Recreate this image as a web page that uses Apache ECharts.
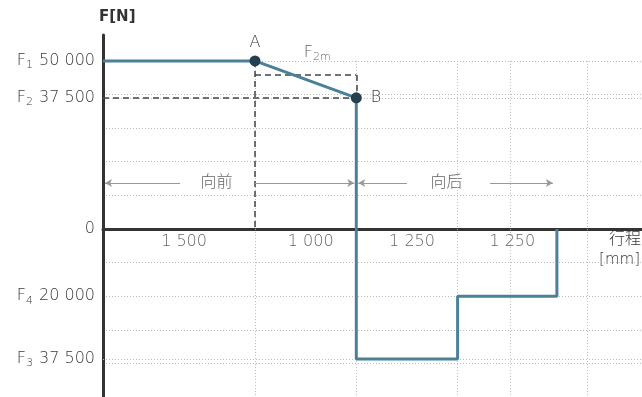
<!DOCTYPE html>
<html>
<head>
<meta charset="utf-8">
<script src="https://cdn.jsdelivr.net/npm/echarts@6/dist/echarts.min.js"></script>
<style>
  html, body { margin: 0; padding: 0; background: #fff; }
  #chart { width: 642px; height: 397px; }
</style>
</head>
<body>
<div id="chart"></div>
<script>
// travel (mm, as drawn) and force (N) of the load profile
const travelPts = [0, 1500, 2500, 2500, 3500, 3500, 4480, 4480]
const forcePts = [50000, 50000, 39000, -38700, -38700, -20000, -20000, 0]

// named points A and B
const pointNames = ['A', 'B']
const pointTravel = [1500, 2500]
const pointForce = [50000, 39000]
const f2mForce = 45800

// segment lengths written under the travel axis
const segBounds = [0, 1500, 2500, 3500, 4480]
const segLabels = ['1 500', '1 000', '1 250', '1 250']

// force axis labels
const forceTicks = [50000, 39000, 0, -20000, -38700]
const forceSubs = ['1', '2', '', '4', '3']
const forceTexts = ['50 000', '37 500', '0', '20 000', '37 500']

// extra vertical grid lines
const vGridAt = [1500, 2500, 3500, 4020, 4780]

const dirNames = ['向前', '向后']

const FONT = '"DejaVu Sans", "Noto Sans CJK SC", sans-serif'
const TXT = '#3a3a3a'
const LINE = '#4b8099'
const X_MAX = 5320

const chart = echarts.init(document.getElementById('chart'))

const subRich = {
  m: { fontSize: 16, color: TXT, fontFamily: FONT, fontWeight: 300 },
  s: { fontSize: 11, color: TXT, fontFamily: FONT, fontWeight: 300, padding: [9, 1, 0, 0] }
}

const dashed = { color: '#444', width: 1.5, type: [6, 4] }
const dotted = { color: '#bbb', width: 1, type: [1, 2] }
const arrowLine = { color: '#999', width: 1, type: 'solid' }

const segData = segLabels.map((s, i) => ({
  value: [(segBounds[i] + segBounds[i + 1]) / 2 + 50, 0],
  label: { formatter: s }
}))

const option = {
  animation: false,
  grid: { left: 103, right: 0, top: 35, bottom: 0, containLabel: false },
  xAxis: {
    type: 'value',
    min: 0,
    max: X_MAX,
    axisLine: { show: true, onZero: true, lineStyle: { color: '#333', width: 3 } },
    axisTick: { show: false },
    axisLabel: { show: false },
    splitLine: { show: false }
  },
  yAxis: {
    type: 'value',
    min: -50000,
    max: 57700,
    interval: 10000,
    name: 'F[N]',
    nameLocation: 'end',
    nameGap: 10,
    nameTextStyle: { fontFamily: FONT, fontSize: 15, fontWeight: 'bold', color: '#333', align: 'left', padding: [0, 0, 0, -4] },
    axisLine: { show: true, onZero: false, lineStyle: { color: '#333', width: 3 } },
    axisTick: { show: false },
    axisLabel: {
      customValues: forceTicks,
      margin: 8,
      formatter: v => {
        const i = forceTicks.indexOf(v)
        if (i < 0) return ''
        return forceSubs[i] ? '{m|F}{s|' + forceSubs[i] + '}{m| ' + forceTexts[i] + '}' : '{m|' + forceTexts[i] + '}'
      },
      rich: subRich
    },
    splitLine: { show: true, showMaxLine: false, lineStyle: dotted }
  },
  series: [
    {
      // grid helpers and dashed construction lines
      type: 'line',
      data: [],
      silent: true,
      markLine: {
        silent: true,
        symbol: 'none',
        label: { show: false },
        data: [
          ...vGridAt.map(x => [{ coord: [x, 50000], lineStyle: dotted }, { coord: [x, -50000] }]),
          [{ coord: [0, pointForce[1]], lineStyle: dotted }, { coord: [X_MAX, pointForce[1]] }],
          [{ coord: [0, forcePts[3]], lineStyle: dotted }, { coord: [X_MAX, forcePts[3]] }],
          [{ coord: [0, pointForce[1]], lineStyle: dashed }, { coord: [pointTravel[1], pointForce[1]] }],
          [{ coord: [pointTravel[0], pointForce[0]], lineStyle: dashed }, { coord: [pointTravel[0], 0] }],
          [{ coord: [pointTravel[0], f2mForce], lineStyle: dashed }, { coord: [pointTravel[1], f2mForce] }],
          [{ coord: [pointTravel[1], f2mForce], lineStyle: dashed }, { coord: [pointTravel[1], pointForce[1]] }]
        ]
      }
    },
    {
      // direction arrows
      type: 'line',
      data: [],
      silent: true,
      markLine: {
        silent: true,
        symbolSize: [6, 7],
        label: { show: false },
        lineStyle: arrowLine,
        data: [
          [{ coord: [760, 13700], symbol: 'none' }, { coord: [20, 13700], symbol: 'arrow' }],
          [{ coord: [1500, 13700], symbol: 'none' }, { coord: [2480, 13700], symbol: 'arrow' }],
          [{ coord: [3000, 13700], symbol: 'none' }, { coord: [2520, 13700], symbol: 'arrow' }],
          [{ coord: [3820, 13700], symbol: 'none' }, { coord: [4440, 13700], symbol: 'arrow' }]
        ]
      }
    },
    {
      type: 'line',
      data: travelPts.map((x, i) => [x, forcePts[i]]),
      symbol: 'none',
      lineStyle: { color: LINE, width: 3 },
      z: 5
    },
    {
      type: 'scatter',
      data: pointNames.map((n, i) => ({
        value: [pointTravel[i], pointForce[i]],
        name: n,
        label: { position: i === 0 ? 'top' : 'right', distance: i === 0 ? 5 : 9 }
      })),
      symbolSize: 11,
      itemStyle: { color: '#24404f', opacity: 1 },
      label: { show: true, formatter: '{b}', fontFamily: FONT, fontWeight: 300, fontSize: 16, color: TXT },
      z: 6
    },
    {
      // segment lengths
      type: 'scatter',
      data: segData,
      symbolSize: 0,
      label: { show: true, position: 'bottom', distance: 5, fontFamily: FONT, fontWeight: 300, fontSize: 16, color: TXT }
    },
    {
      // text annotations
      type: 'scatter',
      symbolSize: 0,
      label: { show: true, position: 'inside', fontFamily: FONT, fontWeight: 300, fontSize: 16, color: TXT, rich: subRich },
      data: [
        { value: [1120, 13700], label: { formatter: dirNames[0] } },
        { value: [3390, 13700], label: { formatter: dirNames[1] } },
        { value: [2120, 52400], label: { formatter: '{m|F}{s|2m}' } }
      ]
    }
  ],
  graphic: [
    { type: 'text', right: 1, top: 232, style: { text: '行程', font: '300 16px ' + FONT, fill: TXT } },
    { type: 'text', right: 2, top: 253, style: { text: '[mm]', font: '300 15px ' + FONT, fill: TXT } }
  ]
}

chart.setOption(option)
</script>
</body>
</html>
